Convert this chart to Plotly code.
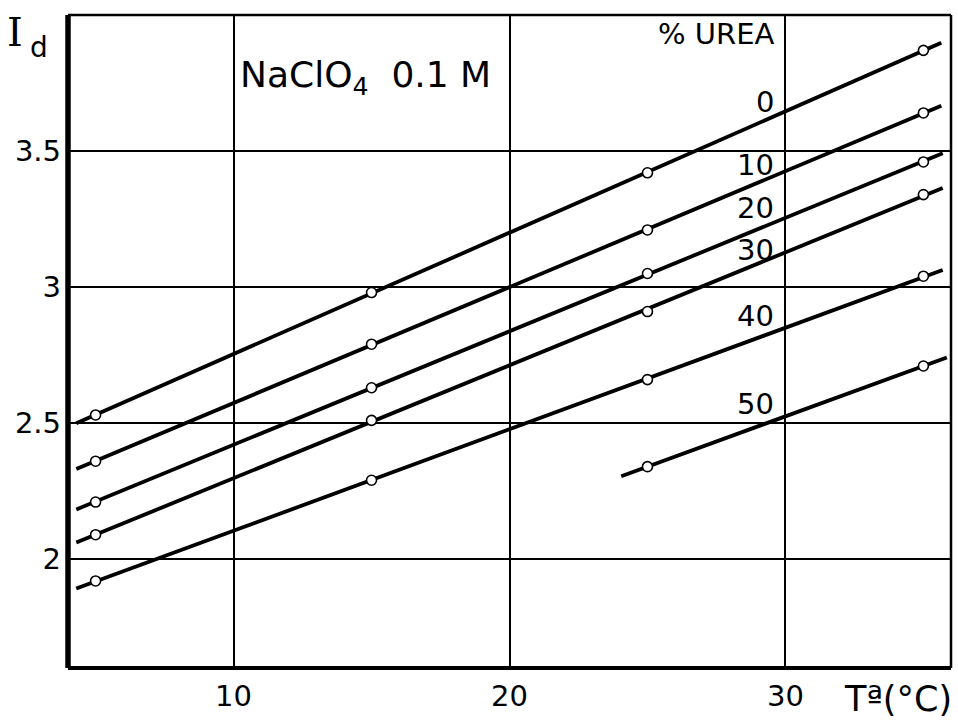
import numpy as np
import plotly.graph_objects as go

# Diffusion current I_d vs temperature, NaClO4 0.1 M, at several urea contents
temperatures = [5, 15, 25, 35]
urea_levels = ["0", "10", "20", "30", "40", "50"]
id_urea_0 = [2.53, 2.98, 3.42, 3.87]
id_urea_10 = [2.36, 2.79, 3.21, 3.64]
id_urea_20 = [2.21, 2.63, 3.05, 3.46]
id_urea_30 = [2.09, 2.51, 2.91, 3.34]
id_urea_40 = [1.92, 2.29, 2.66, 3.04]
id_urea_50 = [None, None, 2.34, 2.71]
series = [id_urea_0, id_urea_10, id_urea_20, id_urea_30, id_urea_40, id_urea_50]

# temperature span covered by each fitted straight line
line_start = [4.3, 4.3, 4.3, 4.3, 4.3, 24.05]
line_end = [35.65, 35.65, 35.7, 35.7, 35.7, 35.85]

x_ticks = [10, 20, 30]
y_ticks = [2, 2.5, 3, 3.5]
y_tick_text = ["2", "2.5", "3", "3.5"]

# where the urea labels sit (right-aligned, data coordinates)
label_x = 29.65
label_y = [3.68, 3.45, 3.29, 3.135, 2.895, 2.57]

FONT = "DejaVu Sans"
INK = "black"

fig = go.Figure()

for vals, t0, t1 in zip(series, line_start, line_end):
    pts = [(t, v) for t, v in zip(temperatures, vals) if v is not None]
    tx = np.array([p[0] for p in pts], dtype=float)
    vy = np.array([p[1] for p in pts], dtype=float)
    slope, intercept = np.polyfit(tx, vy, 1)
    fig.add_trace(go.Scatter(
        x=[t0, t1], y=[slope * t0 + intercept, slope * t1 + intercept],
        mode="lines", line=dict(color=INK, width=3.8),
        hoverinfo="skip", showlegend=False))
    fig.add_trace(go.Scatter(
        x=tx, y=vy, mode="markers",
        marker=dict(symbol="circle", size=10, color="white",
                    line=dict(color=INK, width=1.6)),
        showlegend=False))

for name, ly in zip(urea_levels, label_y):
    fig.add_annotation(x=label_x, y=ly, xref="x", yref="y", text=name,
                       showarrow=False, xanchor="right", yanchor="middle",
                       font=dict(family=FONT, size=29, color=INK))

fig.add_annotation(x=29.65, y=3.93, xref="x", yref="y", text="% UREA",
                   showarrow=False, xanchor="right", yanchor="middle",
                   font=dict(family=FONT, size=29, color=INK))
fig.add_annotation(x=0.193, y=0.905, xref="paper", yref="paper",
                   text="NaClO<sub>4</sub>  0.1 M",
                   showarrow=False, xanchor="left", yanchor="middle",
                   font=dict(family=FONT, size=36, color=INK))

# axis titles placed as free text around the frame
fig.add_annotation(x=-0.071, y=0.974, xref="paper", yref="paper", text="I",
                   showarrow=False, xanchor="left", yanchor="middle",
                   font=dict(family="DejaVu Serif", size=40, color=INK))
fig.add_annotation(x=-0.045, y=0.950, xref="paper", yref="paper", text="d",
                   showarrow=False, xanchor="left", yanchor="middle",
                   font=dict(family=FONT, size=28, color=INK))
fig.add_annotation(x=1.003, y=-0.047, xref="paper", yref="paper", text="Tª(°C)",
                   showarrow=False, xanchor="right", yanchor="middle",
                   font=dict(family=FONT, size=35, color=INK))

# frame: heavy left and bottom edges, lighter top and right
frame = [((0, 0), (0, 1), 5.5), ((0, 0), (1, 0), 4), ((0, 1), (1, 1), 2.5), ((1, 0), (1, 1), 2.5)]
for (xa, ya), (xb, yb), w in frame:
    fig.add_shape(type="line", xref="x domain", yref="y domain",
                  x0=xa, y0=ya, x1=xb, y1=yb, line=dict(color=INK, width=w))

fig.update_xaxes(range=[4, 36], tickvals=x_ticks, ticktext=[str(v) for v in x_ticks],
                 showgrid=True, gridcolor=INK, gridwidth=1.8, zeroline=False,
                 showline=False, ticks="", ticklabelstandoff=8,
                 tickfont=dict(family=FONT, size=29, color=INK))
fig.update_yaxes(range=[1.6, 4.0], tickvals=y_ticks, ticktext=y_tick_text,
                 showgrid=True, gridcolor=INK, gridwidth=1.8, zeroline=False,
                 showline=False, ticks="", ticklabelstandoff=6,
                 tickfont=dict(family=FONT, size=29, color=INK))

fig.update_layout(width=958, height=725,
                  margin=dict(l=68, r=7, t=15, b=57),
                  plot_bgcolor="white", paper_bgcolor="white",
                  showlegend=False)

fig.write_html("out.html")
